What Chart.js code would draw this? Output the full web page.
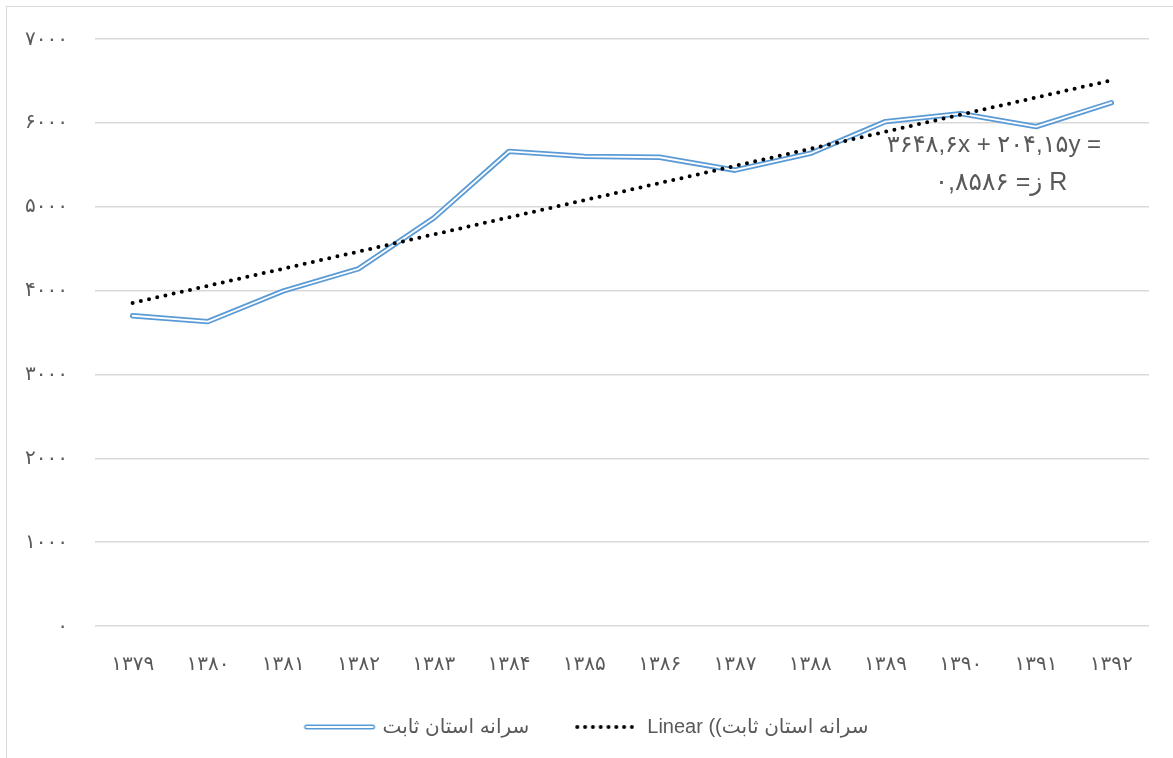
<!DOCTYPE html>
<html lang="fa" dir="ltr">
<head>
<meta charset="utf-8">
<title>سرانه استان ثابت</title>
<script src="https://cdn.jsdelivr.net/npm/chart.js@4/dist/chart.umd.min.js"></script>
<style>
  html, body { margin: 0; padding: 0; background: #fff; overflow: hidden; }
  #wrap { position: relative; width: 1173px; height: 758px; }
  #frame { position: absolute; left: 6px; top: 6px; width: 1200px; height: 800px;
           border: 1px solid #d9d9d9; box-sizing: border-box; pointer-events: none; }
  #chart { position: absolute; left: 0; top: 0; }
</style>
</head>
<body>
<div id="wrap">
  <canvas id="chart" width="1173" height="758"></canvas>
  <div id="frame"></div>
</div>
<script>
// categories (years) and tick labels
const years = ['۱۳۷۹', '۱۳۸۰', '۱۳۸۱', '۱۳۸۲', '۱۳۸۳', '۱۳۸۴', '۱۳۸۵',
               '۱۳۸۶', '۱۳۸۷', '۱۳۸۸', '۱۳۸۹', '۱۳۹۰', '۱۳۹۱', '۱۳۹۲'];
const yTickLabels = ['۰', '۱۰۰۰', '۲۰۰۰', '۳۰۰۰', '۴۰۰۰', '۵۰۰۰', '۶۰۰۰', '۷۰۰۰'];

// series values
const perCapita = [3700, 3630, 3995, 4260, 4865, 5660, 5600, 5590, 5435, 5635, 6015, 6110, 5955, 6240];
// linear trend as shown (y = 204.15x + 3648.6)
const trendValues = [3852.75, 4056.9, 4261.05, 4465.2, 4669.35, 4873.5, 5077.65,
                     5281.8, 5485.95, 5690.1, 5894.25, 6098.4, 6302.55, 6506.7];

const seriesName = 'سرانه استان ثابت';
const trendName = 'Linear ((سرانه استان ثابت';
const equationText = '۳۶۴۸,۶x + ۲۰۴,۱۵y =';
const rSquaredText = '۰,۸۵۸۶ =\u200Eز\u200E R';

const blue = '#5b9bd5';
const textGray = '#595959';
const gridGray = '#d9d9d9';
const fontFamily = '"Liberation Sans", Arial, "DejaVu Sans", sans-serif';

// legend icons
function makeDoubleLineIcon() {
  const c = document.createElement('canvas');
  c.width = 74; c.height = 10;
  const g = c.getContext('2d');
  g.lineCap = 'round';
  g.strokeStyle = blue; g.lineWidth = 5;
  g.beginPath(); g.moveTo(4, 5); g.lineTo(70, 5); g.stroke();
  g.strokeStyle = '#fff'; g.lineWidth = 1.8;
  g.beginPath(); g.moveTo(4, 5); g.lineTo(70, 5); g.stroke();
  return c;
}
function makeDottedIcon() {
  const c = document.createElement('canvas');
  c.width = 60; c.height = 8;
  const g = c.getContext('2d');
  g.fillStyle = '#000';
  for (let i = 0; i < 8; i++) {
    g.beginPath(); g.arc(3 + i * 7.8, 4, 2, 0, Math.PI * 2); g.fill();
  }
  return c;
}
const doubleLineIcon = makeDoubleLineIcon();
const dottedIcon = makeDottedIcon();

// trend equation text
const equationPlugin = {
  id: 'equation',
  afterLayout(chart) {
    // nudge the legend to the right like the original
    chart.legend.left += 10;
    chart.legend.right += 10;
  },
  afterDraw(chart) {
    const ctx = chart.ctx;
    const area = chart.chartArea;
    ctx.save();
    ctx.fillStyle = textGray;
    ctx.textAlign = 'center';
    ctx.textBaseline = 'middle';
    ctx.font = '24px ' + fontFamily;
    ctx.fillText(equationText, area.right - 155, area.top + 106);
    ctx.font = '25px ' + fontFamily;
    ctx.fillText(rSquaredText, area.right - 148, area.top + 144);
    ctx.restore();
  }
};

const chart = new Chart(document.getElementById('chart'), {
  type: 'line',
  data: {
    labels: years,
    datasets: [
      {
        label: trendName,
        data: trendValues,
        borderColor: '#000',
        borderWidth: 4,
        borderDash: [0, 8.4],
        borderCapStyle: 'round',
        pointRadius: 0,
        tension: 0,
        fill: false
      },
      {
        label: seriesName + ' core',
        data: perCapita,
        borderColor: '#fff',
        borderWidth: 1.8,
        borderCapStyle: 'round',
        borderJoinStyle: 'round',
        pointRadius: 0,
        tension: 0,
        fill: false
      },
      {
        label: seriesName,
        data: perCapita,
        borderColor: blue,
        borderWidth: 5.4,
        borderCapStyle: 'round',
        borderJoinStyle: 'round',
        pointRadius: 0,
        tension: 0,
        fill: false
      }
    ]
  },
  options: {
    responsive: false,
    animation: false,
    devicePixelRatio: 1,
    layout: {
      padding: { left: 6, right: 24, top: 34, bottom: 11 }
    },
    plugins: {
      tooltip: { enabled: false },
      legend: {
        position: 'bottom',
        labels: {
          usePointStyle: true,
          pointStyleWidth: 66,
          padding: 42,
          color: textGray,
          font: { family: fontFamily, size: 20 },
          generateLabels: () => [
            { text: seriesName, pointStyle: doubleLineIcon, fontColor: textGray,
              lineWidth: 0, strokeStyle: 'transparent', fillStyle: 'transparent', datasetIndex: 2 },
            { text: trendName, pointStyle: dottedIcon, fontColor: textGray,
              lineWidth: 0, strokeStyle: 'transparent', fillStyle: 'transparent', datasetIndex: 0 }
          ]
        }
      }
    },
    scales: {
      x: {
        offset: true,
        grid: { display: false },
        border: { display: false },
        ticks: {
          color: textGray,
          font: { family: fontFamily, size: 20 },
          padding: 18,
          maxRotation: 0,
          autoSkip: false
        },
        afterFit(scale) { scale.height = 49; }
      },
      y: {
        min: 0,
        max: 7000,
        grid: { color: gridGray, lineWidth: 1.5, drawTicks: false },
        border: { display: false },
        ticks: {
          stepSize: 1000,
          color: textGray,
          font: { family: fontFamily, size: 20 },
          padding: 27,
          callback: (value) => yTickLabels[value / 1000]
        },
        afterFit(scale) { scale.width = 89; }
      }
    }
  },
  plugins: [equationPlugin]
});
</script>
</body>
</html>
